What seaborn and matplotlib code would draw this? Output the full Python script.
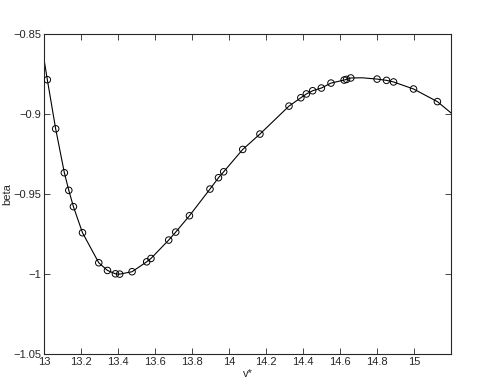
import numpy as np
import pandas as pd
import seaborn as sns
import matplotlib.pyplot as plt

# sampled points (circles)
vPts = [13.018, 13.063, 13.110, 13.134, 13.159, 13.208, 13.296, 13.343, 13.386, 13.409,
        13.476, 13.555, 13.578, 13.674, 13.712, 13.786, 13.897, 13.943, 13.971, 14.074,
        14.167, 14.324, 14.388, 14.418, 14.452, 14.499, 14.551, 14.622, 14.635, 14.658,
        14.800, 14.851, 14.889, 14.997, 15.126]
betaPts = [-0.8786, -0.9093, -0.9368, -0.9478, -0.9580, -0.9743, -0.9931, -0.9979, -1.0000, -1.0002,
           -0.9987, -0.9925, -0.9904, -0.9789, -0.9739, -0.9637, -0.9470, -0.9399, -0.9362, -0.9222,
           -0.9126, -0.8951, -0.8899, -0.8875, -0.8855, -0.8838, -0.8807, -0.8788, -0.8784, -0.8775,
           -0.8782, -0.8790, -0.8800, -0.8844, -0.8923]

# curve (same points plus both ends and the top)
vLine = [13.0] + vPts[:30] + [14.72] + vPts[30:] + [15.2]
betaLine = [-0.8658] + betaPts[:30] + [-0.8774] + betaPts[30:] + [-0.8994]

sns.set_style("ticks")
plt.rcParams['font.family'] = ['Liberation Sans', 'DejaVu Sans']
plt.rcParams['xtick.direction'] = 'in'
plt.rcParams['ytick.direction'] = 'in'

fig = plt.figure(figsize=(5.04, 3.82), dpi=100)
ax = fig.add_axes([0.0873, 0.074, 0.8077, 0.837])

lineDf = pd.DataFrame({"v": vLine, "beta": betaLine})
ptsDf = pd.DataFrame({"v": vPts, "beta": betaPts})
sns.lineplot(ax=ax, data=lineDf, x="v", y="beta", sort=False, color="black", linewidth=0.8)
sns.scatterplot(ax=ax, data=ptsDf, x="v", y="beta", marker="o", s=22,
                facecolors="none", edgecolor="black", linewidth=0.7, zorder=3)

ax.set_xlim(13, 15.2)
ax.set_ylim(-1.05, -0.85)
ax.set_xticks([13, 13.2, 13.4, 13.6, 13.8, 14, 14.2, 14.4, 14.6, 14.8, 15])
ax.set_xticklabels(["13", "13.2", "13.4", "13.6", "13.8", "14", "14.2", "14.4", "14.6", "14.8", "15"])
ax.set_yticks([-1.05, -1, -0.95, -0.9, -0.85])
ax.set_yticklabels(["\u22121.05", "\u22121", "\u22120.95", "\u22120.9", "\u22120.85"])
ax.tick_params(labelsize=8, length=4, width=0.6, top=True, right=True, pad=2)
for s in ax.spines.values():
    s.set_linewidth(0.8)
    s.set_visible(True)
ax.set_xlabel("v*", fontsize=8, labelpad=2)
ax.set_ylabel("beta", fontsize=8, labelpad=1)

fig.savefig("out.png", dpi=100)
